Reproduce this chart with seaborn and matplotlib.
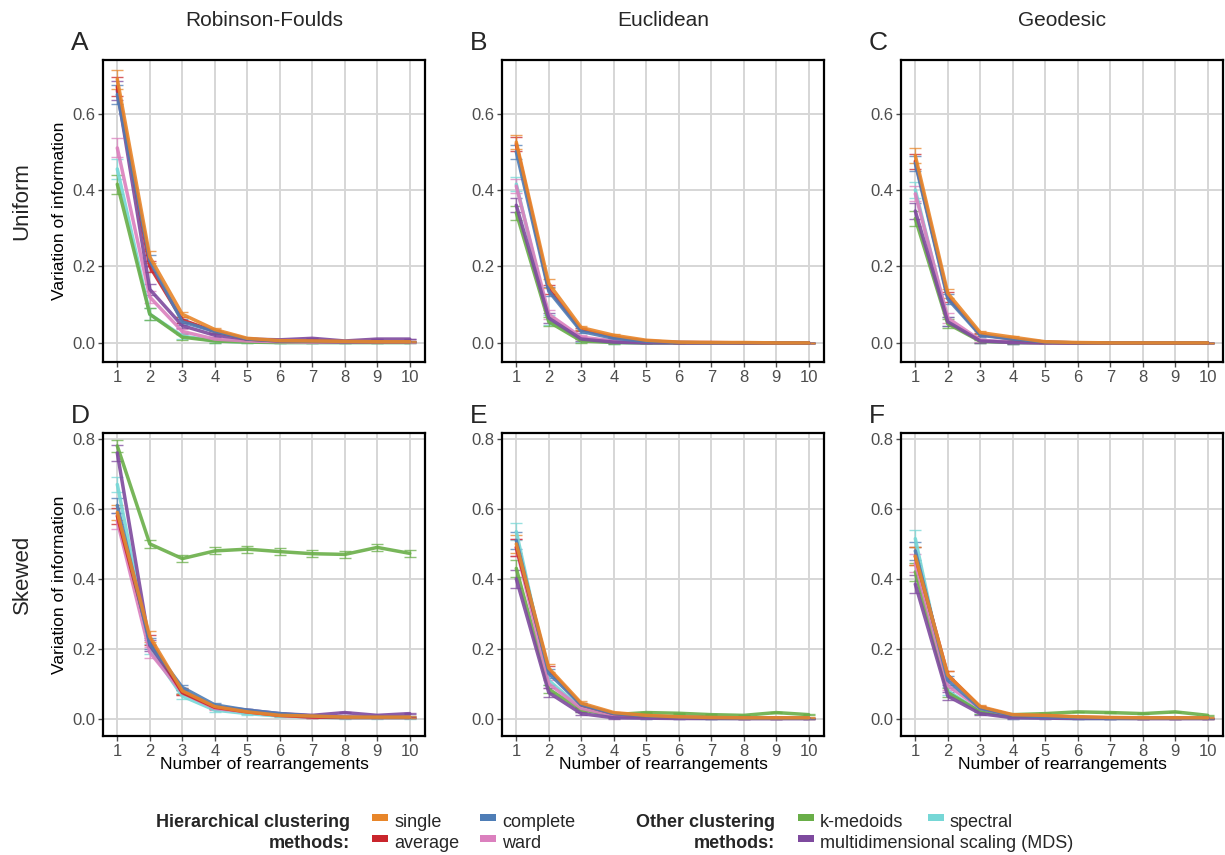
import numpy as np
import pandas as pd
import matplotlib
matplotlib.use("Agg")
import matplotlib.pyplot as plt
import seaborn as sns
from matplotlib.patches import Rectangle

# ---------------- data ----------------
rearrangements = list(range(1, 11))
methods = ["single", "average", "complete", "ward",
           "k-medoids", "spectral", "multidimensional scaling (MDS)"]
colors = ["#E8862A", "#C9252C", "#4E7DB6", "#DB80BE",
          "#69AE48", "#76D7D6", "#7E4A9E"]
distances = ["Robinson-Foulds", "Euclidean", "Geodesic"]
distributions = ["Uniform", "Skewed"]
panel_letters = ["A", "B", "C", "D", "E", "F"]

# mean variation of information (A..F)
vi_A = {
    "single":   [0.690, 0.225, 0.075, 0.035, 0.012, 0.006, 0.005, 0.004, 0.003, 0.003],
    "average":  [0.670, 0.200, 0.060, 0.030, 0.010, 0.005, 0.004, 0.003, 0.003, 0.003],
    "complete": [0.650, 0.215, 0.055, 0.030, 0.010, 0.005, 0.004, 0.003, 0.003, 0.003],
    "ward":     [0.510, 0.120, 0.030, 0.010, 0.005, 0.003, 0.002, 0.002, 0.002, 0.002],
    "k-medoids": [0.415, 0.075, 0.015, 0.005, 0.002, 0.001, 0.001, 0.001, 0.001, 0.001],
    "spectral": [0.455, 0.075, 0.018, 0.005, 0.002, 0.001, 0.001, 0.001, 0.001, 0.001],
    "multidimensional scaling (MDS)": [0.660, 0.140, 0.045, 0.020, 0.010, 0.008, 0.012, 0.005, 0.010, 0.010],
}
vi_B = {
    "single":   [0.525, 0.155, 0.040, 0.020, 0.007, 0.002, 0.001, 0.001, 0.000, 0.000],
    "average":  [0.520, 0.140, 0.035, 0.015, 0.005, 0.001, 0.001, 0.000, 0.000, 0.000],
    "complete": [0.500, 0.135, 0.030, 0.012, 0.004, 0.001, 0.000, 0.000, 0.000, 0.000],
    "ward":     [0.410, 0.075, 0.015, 0.005, 0.002, 0.001, 0.000, 0.000, 0.000, 0.000],
    "k-medoids": [0.340, 0.055, 0.005, 0.001, 0.000, 0.000, 0.000, 0.000, 0.000, 0.000],
    "spectral": [0.415, 0.060, 0.008, 0.001, 0.000, 0.000, 0.000, 0.000, 0.000, 0.000],
    "multidimensional scaling (MDS)": [0.360, 0.065, 0.010, 0.002, 0.000, 0.000, 0.000, 0.000, 0.000, 0.000],
}
vi_C = {
    "single":   [0.490, 0.130, 0.027, 0.015, 0.003, 0.001, 0.000, 0.000, 0.000, 0.000],
    "average":  [0.475, 0.120, 0.022, 0.010, 0.002, 0.000, 0.000, 0.000, 0.000, 0.000],
    "complete": [0.470, 0.115, 0.020, 0.010, 0.002, 0.000, 0.000, 0.000, 0.000, 0.000],
    "ward":     [0.390, 0.065, 0.007, 0.002, 0.000, 0.000, 0.000, 0.000, 0.000, 0.000],
    "k-medoids": [0.325, 0.050, 0.004, 0.001, 0.000, 0.000, 0.000, 0.000, 0.000, 0.000],
    "spectral": [0.400, 0.055, 0.005, 0.001, 0.000, 0.000, 0.000, 0.000, 0.000, 0.000],
    "multidimensional scaling (MDS)": [0.345, 0.055, 0.005, 0.001, 0.000, 0.000, 0.000, 0.000, 0.000, 0.000],
}
vi_D = {
    "single":   [0.590, 0.235, 0.080, 0.035, 0.020, 0.010, 0.008, 0.005, 0.005, 0.005],
    "average":  [0.580, 0.225, 0.075, 0.033, 0.020, 0.010, 0.005, 0.004, 0.004, 0.004],
    "complete": [0.610, 0.215, 0.090, 0.040, 0.025, 0.015, 0.008, 0.005, 0.005, 0.005],
    "ward":     [0.565, 0.190, 0.075, 0.030, 0.020, 0.010, 0.005, 0.004, 0.004, 0.004],
    "k-medoids": [0.780, 0.500, 0.458, 0.480, 0.485, 0.478, 0.472, 0.470, 0.490, 0.473],
    "spectral": [0.670, 0.200, 0.065, 0.025, 0.015, 0.008, 0.005, 0.003, 0.003, 0.003],
    "multidimensional scaling (MDS)": [0.760, 0.210, 0.080, 0.035, 0.025, 0.015, 0.010, 0.018, 0.010, 0.015],
}
vi_E = {
    "single":   [0.500, 0.145, 0.045, 0.018, 0.010, 0.006, 0.004, 0.003, 0.003, 0.003],
    "average":  [0.490, 0.140, 0.040, 0.015, 0.008, 0.005, 0.003, 0.002, 0.002, 0.002],
    "complete": [0.510, 0.130, 0.040, 0.015, 0.008, 0.005, 0.003, 0.002, 0.002, 0.002],
    "ward":     [0.490, 0.100, 0.030, 0.010, 0.005, 0.003, 0.002, 0.001, 0.001, 0.001],
    "k-medoids": [0.430, 0.085, 0.025, 0.012, 0.018, 0.016, 0.012, 0.010, 0.018, 0.012],
    "spectral": [0.535, 0.110, 0.030, 0.005, 0.003, 0.002, 0.001, 0.001, 0.001, 0.001],
    "multidimensional scaling (MDS)": [0.400, 0.075, 0.015, 0.003, 0.002, 0.001, 0.001, 0.001, 0.001, 0.001],
}
vi_F = {
    "single":   [0.465, 0.125, 0.035, 0.012, 0.010, 0.006, 0.004, 0.003, 0.003, 0.003],
    "average":  [0.465, 0.125, 0.033, 0.010, 0.008, 0.005, 0.003, 0.002, 0.002, 0.002],
    "complete": [0.480, 0.110, 0.030, 0.010, 0.006, 0.004, 0.002, 0.002, 0.002, 0.002],
    "ward":     [0.445, 0.095, 0.030, 0.010, 0.005, 0.003, 0.002, 0.001, 0.001, 0.001],
    "k-medoids": [0.420, 0.075, 0.020, 0.012, 0.015, 0.020, 0.018, 0.015, 0.020, 0.010],
    "spectral": [0.515, 0.080, 0.020, 0.003, 0.002, 0.001, 0.001, 0.001, 0.001, 0.001],
    "multidimensional scaling (MDS)": [0.385, 0.065, 0.015, 0.003, 0.002, 0.001, 0.001, 0.001, 0.001, 0.001],
}
# half-width of error bars per panel (shared by methods, per rearrangement)
err_A = [0.025, 0.015, 0.007, 0.004, 0.002, 0.001, 0.001, 0.001, 0.001, 0.001]
err_B = [0.018, 0.012, 0.005, 0.003, 0.001, 0.001, 0.001, 0.001, 0.001, 0.001]
err_C = [0.020, 0.012, 0.004, 0.003, 0.001, 0.001, 0.001, 0.001, 0.001, 0.001]
err_D = [0.022, 0.015, 0.008, 0.005, 0.003, 0.002, 0.002, 0.002, 0.002, 0.002]
err_D_kmedoids = [0.018, 0.012, 0.010, 0.010, 0.010, 0.010, 0.010, 0.010, 0.010, 0.010]
err_E = [0.025, 0.012, 0.005, 0.003, 0.002, 0.001, 0.001, 0.001, 0.001, 0.001]
err_F = [0.025, 0.012, 0.005, 0.003, 0.002, 0.001, 0.001, 0.001, 0.001, 0.001]

panel_values = [vi_A, vi_B, vi_C, vi_D, vi_E, vi_F]
panel_errors = [err_A, err_B, err_C, err_D, err_E, err_F]
error_overrides = {3: {"k-medoids": err_D_kmedoids}}

# ---------------- style ----------------
sns.set_theme(style="white")
plt.rcParams["font.family"] = ["Liberation Sans", "DejaVu Sans"]
palette = dict(zip(methods, colors))
draw_order = ["spectral", "k-medoids", "ward", "multidimensional scaling (MDS)",
              "average", "complete", "single"]

W, H = 1225, 855
fig = plt.figure(figsize=(W / 100, H / 100), dpi=100)

col_left = [103, 502, 901]
col_w = 322
row_top = [60, 433]
row_h = [302, 303]
ylims = [(-0.05, 0.74), (-0.049, 0.817)]
yticks = [[0.0, 0.2, 0.4, 0.6], [0.0, 0.2, 0.4, 0.6, 0.8]]

for r in range(2):
    for c in range(3):
        k = r * 3 + c
        left = col_left[c] / W
        bottom = 1 - (row_top[r] + row_h[r]) / H
        ax = fig.add_axes([left, bottom, col_w / W, row_h[r] / H])
        vals = panel_values[k]
        df = pd.DataFrame([
            {"rearrangements": x, "vi": vals[m][i], "method": m}
            for m in methods for i, x in enumerate(rearrangements)
        ])
        ax.grid(True, color="#d6d6d6", lw=1.4, zorder=0)
        ax.set_axisbelow(True)
        for m in draw_order:
            errs = error_overrides.get(k, {}).get(m, panel_errors[k])
            ax.errorbar(rearrangements, vals[m], yerr=errs, fmt="none",
                        ecolor=palette[m], elinewidth=1.0, capsize=4.5,
                        capthick=1.0, alpha=0.75, zorder=2)
        sns.lineplot(data=df, x="rearrangements", y="vi", hue="method",
                     hue_order=draw_order, palette=palette, lw=2.5,
                     alpha=0.9, legend=False, ax=ax, zorder=3)
        ax.set_xlim(0.56, 10.47)
        ax.set_ylim(*ylims[r])
        ax.set_xticks(rearrangements)
        ax.set_yticks(yticks[r])
        ax.set_yticklabels([f"{v:.1f}" for v in yticks[r]])
        for s in ax.spines.values():
            s.set_visible(True)
            s.set_color("black")
            s.set_linewidth(1.6)
        ax.tick_params(axis="both", which="major", length=3.5, width=1,
                       color="#4d4d4d", labelcolor="#4d4d4d",
                       labelsize=12, pad=2, direction="out",
                       bottom=True, left=True)
        ax.set_xlabel("")
        ax.set_ylabel("")
        if c == 0:
            ax.set_ylabel("Variation of information", fontsize=12.5,
                          color="black", labelpad=4)
        if r == 1:
            ax.set_xlabel("Number of rearrangements", fontsize=12.5,
                          color="black", labelpad=-1)
        fig.text((col_left[c] - 32) / W, 1 - (row_top[r] - 17) / H,
                 panel_letters[k], fontsize=19, ha="left", va="center")

# column titles
for c, name in enumerate(distances):
    fig.text((col_left[c] + col_w / 2) / W, 1 - 20 / H, name,
             fontsize=15, ha="center", va="center")
# row labels
for r, name in enumerate(distributions):
    fig.text(22 / W, 1 - (row_top[r] + row_h[r] / 2 - 10) / H, name,
             fontsize=16, rotation=90, ha="center", va="center")

# ---------------- legend ----------------
narrow = ["Liberation Sans Narrow", "Liberation Sans", "DejaVu Sans"]
y1, y2 = 1 - 822 / H, 1 - 843 / H
fig.text(350 / W, y1, "Hierarchical clustering", family=narrow, weight="bold",
         fontsize=13, ha="right", va="center")
fig.text(350 / W, y2, "methods:", family=narrow, weight="bold",
         fontsize=13, ha="right", va="center")
fig.text(775 / W, y1, "Other clustering", family=narrow, weight="bold",
         fontsize=13, ha="right", va="center")
fig.text(775 / W, y2, "methods:", family=narrow, weight="bold",
         fontsize=13, ha="right", va="center")

legend_items = [
    ("single", 372, y1), ("average", 372, y2),
    ("complete", 480, y1), ("ward", 480, y2),
    ("k-medoids", 798, y1), ("spectral", 928, y1),
    ("multidimensional scaling (MDS)", 798, y2),
]
for m, xk, yy in legend_items:
    fig.patches.append(Rectangle((xk / W, yy + 1 / H), 16 / W, 7 / H,
                                 transform=fig.transFigure,
                                 facecolor=palette[m], edgecolor="none"))
    fig.text((xk + 22) / W, yy, m, family=narrow, fontsize=13,
             ha="left", va="center")

fig.savefig("out.png", dpi=100)
